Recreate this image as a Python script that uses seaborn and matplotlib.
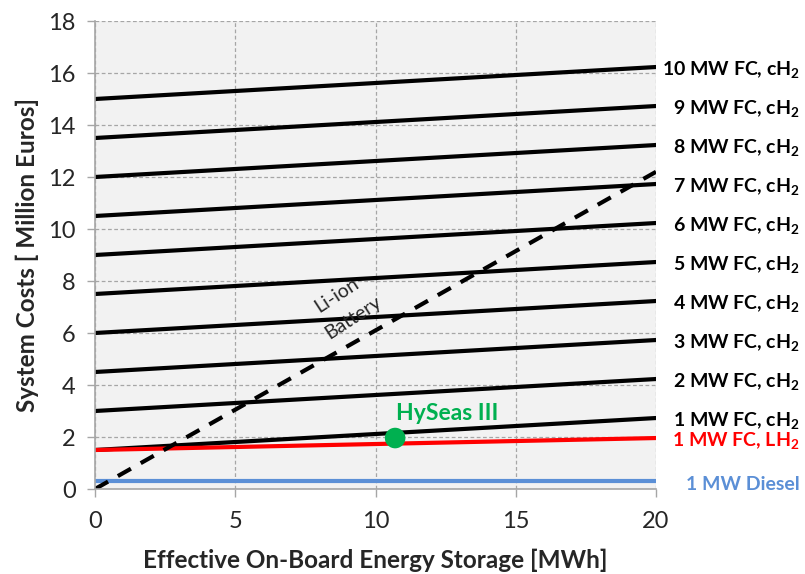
import matplotlib
matplotlib.use("Agg")
import matplotlib.pyplot as plt
import seaborn as sns
import pandas as pd

# Storage range (MWh) over which each system cost is evaluated
storage = [0, 20]

# Fuel-cell systems with compressed hydrogen: cost at 0 and 20 MWh (million euros)
fc_labels = [f"{p} MW FC, cH" for p in range(1, 11)]
fc_start = [1.5, 3.0, 4.5, 6.0, 7.5, 9.0, 10.5, 12.0, 13.5, 15.0]
fc_end = [2.73, 4.23, 5.73, 7.23, 8.73, 10.23, 11.73, 13.23, 14.73, 16.23]

# Liquid hydrogen fuel cell, diesel and Li-ion battery
lh2_cost = [1.5, 1.96]
diesel_cost = [0.3, 0.3]
battery_cost = [0.0, 12.2]

# Reference vessel
hyseas_storage = [10.7]
hyseas_cost = [1.96]

sns.set_theme(style="whitegrid")
plt.rcParams["font.family"] = ["Lato", "DejaVu Sans"]
plt.rcParams["mathtext.fontset"] = "custom"
plt.rcParams["mathtext.rm"] = "Lato:bold"
plt.rcParams["mathtext.bf"] = "Lato:bold"

fig = plt.figure(figsize=(8.05, 5.74), dpi=100)
ax = fig.add_axes([95 / 805, 1 - 489 / 574, (656 - 95) / 805, (489 - 21) / 574])
ax.set_facecolor("#f2f2f2")

lw = 3.0
for lab, s, e in zip(fc_labels, fc_start, fc_end):
    df = pd.DataFrame({"x": storage, "y": [s, e]})
    sns.lineplot(data=df, x="x", y="y", ax=ax, color="black", linewidth=lw)

sns.lineplot(data=pd.DataFrame({"x": storage, "y": lh2_cost}), x="x", y="y",
             ax=ax, color="#ff0000", linewidth=lw)
sns.lineplot(data=pd.DataFrame({"x": storage, "y": diesel_cost}), x="x", y="y",
             ax=ax, color="#5b8fd6", linewidth=lw)
sns.lineplot(data=pd.DataFrame({"x": storage, "y": battery_cost}), x="x", y="y",
             ax=ax, color="black", linewidth=lw)
ax.lines[-1].set_dashes([3.6, 2.7])

sns.scatterplot(x=hyseas_storage, y=hyseas_cost, ax=ax, color="#00b050",
                s=220, edgecolor="none", zorder=5)
ax.text(12.55, 2.92, "HySeas III", color="#00b050", fontsize=16.5,
        fontweight="bold", ha="center", va="center")

ax.text(8.63, 7.46, "Li-ion", rotation=33, fontsize=14, ha="center", va="center",
        rotation_mode="anchor")
ax.text(9.2, 6.58, "Battery", rotation=33, fontsize=14, ha="center", va="center",
        rotation_mode="anchor")

ax.set_xlim(0, 20)
ax.set_ylim(0, 18)
ax.set_xticks([0, 5, 10, 15, 20])
ax.set_yticks(range(0, 19, 2))
ax.grid(True, color="#a6a6a6", linestyle=(0, (3, 2)), linewidth=0.9)
ax.tick_params(axis="both", labelsize=17, length=6, color="#a6a6a6",
               direction="out", width=1)
ax.tick_params(axis="y", left=True, pad=8)
ax.tick_params(axis="x", bottom=True, pad=10)
for side in ["top", "right"]:
    ax.spines[side].set_visible(False)
for side in ["left", "bottom"]:
    ax.spines[side].set_color("#a6a6a6")
    ax.spines[side].set_linewidth(1.2)

ax.set_xlabel("Effective On-Board Energy Storage [MWh]", fontsize=17.5,
              fontweight="bold")
ax.set_ylabel("System Costs [ Million Euros]", fontsize=17.5, fontweight="bold")
ax.xaxis.label.set_va("baseline")
ax.yaxis.label.set_va("center")
ax.xaxis.set_label_coords(0.5, (489 - 568) / 468)
ax.yaxis.set_label_coords((27 - 95) / 561, 0.5)

# Series labels at the right end of each line
xr = 800 / 805
def right_label(y, text, color):
    yf = ax.transData.transform((20, y))[1]
    fig.text(xr, (yf - 3) / 574, text, color=color, fontsize=14,
             fontweight="bold", ha="right", va="center")

for lab, e in zip(fc_labels, fc_end):
    right_label(e, lab + r"$_{\mathrm{2}}$", "black")
right_label(lh2_cost[1], "1 MW FC, LH" + r"$_{\mathrm{2}}$", "#ff0000")
right_label(diesel_cost[1], "1 MW Diesel", "#5b8fd6")

fig.savefig("out.png", dpi=100)
